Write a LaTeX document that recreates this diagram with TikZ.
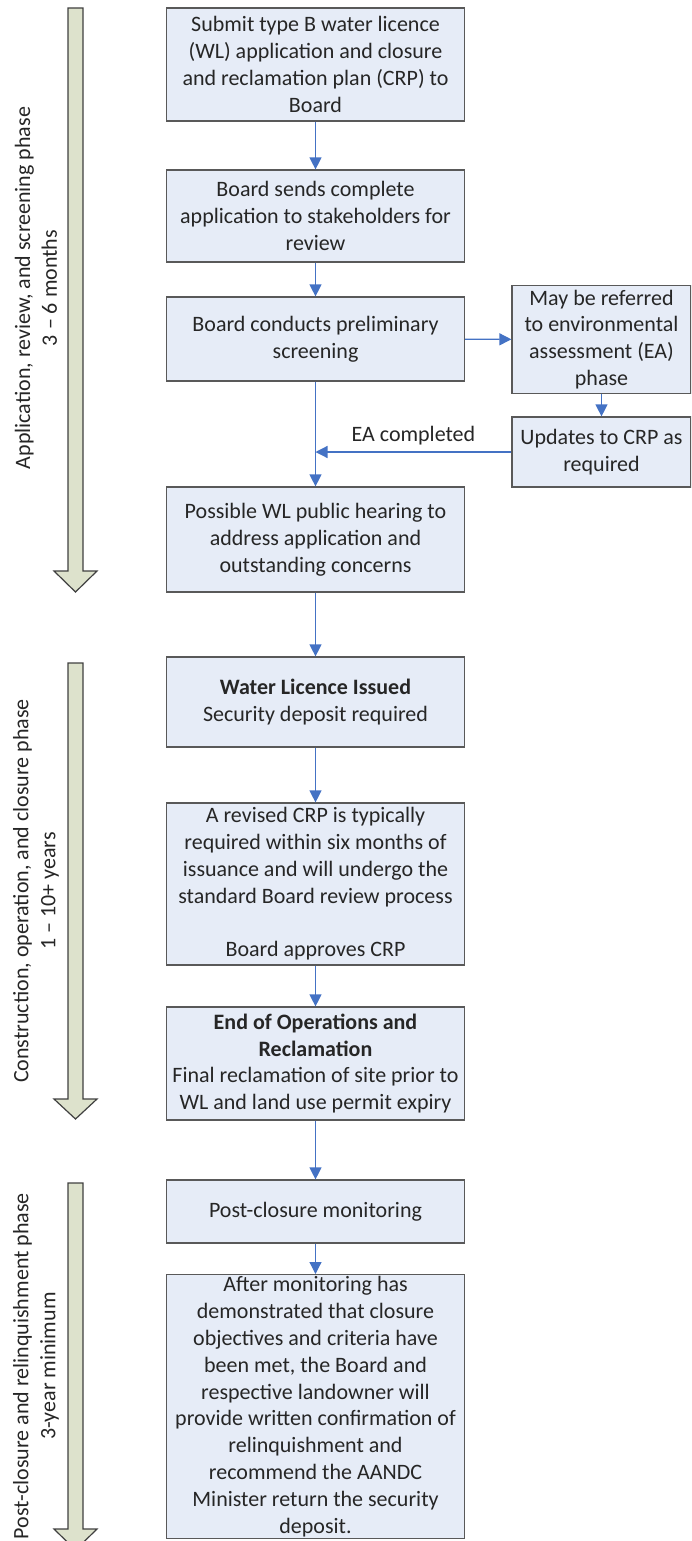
\documentclass[tikz,border=0pt]{standalone}
\usepackage{fontspec}
\setmainfont{Carlito}
\usetikzlibrary{arrows.meta,positioning}
\definecolor{BoxFill}{HTML}{E6ECF7}
\definecolor{BoxLine}{HTML}{595959}
\definecolor{Flow}{HTML}{4472C4}
\definecolor{Phase}{HTML}{DDE2CC}
\definecolor{PhaseLine}{HTML}{404040}
\definecolor{Ink}{HTML}{262626}

\begin{document}
\begin{tikzpicture}[x=0.5pt,y=-0.5pt,
  stepbox/.style={draw=BoxLine,fill=BoxFill,line width=0.6pt,align=center,text=Ink,
    font=\fontsize{11}{13.4}\selectfont,minimum width=149pt,inner sep=2pt},
  sidebox/.style={stepbox,minimum width=89.5pt,inner xsep=1pt},
  flow/.style={draw=Flow,line width=0.6pt,-{Triangle[length=6pt,width=6pt]}},
  phase/.style={draw=PhaseLine,fill=Phase,line width=0.6pt},
  phaselabel/.style={rotate=90,align=center,text=Ink,font=\fontsize{11}{13.4}\selectfont}]
\useasboundingbox (0,0) rectangle (691,1541);
\clip (0,0) rectangle (691,1541);
\foreach \ya/\yb/\yc/\ym/\txt [count=\i] in {8/571/592/288/{Application, review, and screening phase\\3 -- 6 months},
    663/1099/1119/891/{Construction, operation, and closure phase\\1 -- 10+ years},
    1183/1529/1550/1366/{Post-closure and relinquishment phase\\3-year minimum}}
  {\draw[phase] (68,\ya) -- (83,\ya) -- (83,\yb) -- (97,\yb) -- (75.5,\yc) -- (54,\yb) -- (68,\yb) -- cycle;
   \node[phaselabel] (phase\i) at (36,\ym) {\txt};}
\node[stepbox,minimum height=56.5pt] (submit) at (315.5,64.5) {Submit type B water licence\\(WL) application and closure\\and reclamation plan (CRP) to\\Board};
\node[stepbox,minimum height=46pt] (sends) at (315.5,216) {Board sends complete\\application to stakeholders for\\review};
\node[stepbox,minimum height=42pt] (screen) at (315.5,339) {Board conducts preliminary\\screening};
\node[stepbox,minimum height=52.5pt] (hearing) at (315.5,539.5) {Possible WL public hearing to\\address application and\\outstanding concerns};
\node[sidebox,minimum height=51.5pt] (refer) at (601.5,339.5) {May be referred\\to environmental\\assessment (EA)\\phase};
\node[sidebox,minimum height=35pt] (update) at (601.5,452) {Updates to CRP as\\required};
\node[stepbox,minimum height=45pt] (issued) at (315.5,702) {\textbf{Water Licence Issued}\\Security deposit required};
\node[stepbox,minimum height=81pt] (revised) at (315.5,884) {A revised CRP is typically\\required within six months of\\issuance and will undergo the\\standard Board review process\\[13.4pt]Board approves CRP};
\node[stepbox,minimum height=56.5pt] (endops) at (315.5,1063.5) {\textbf{End of Operations and}\\\textbf{Reclamation}\\Final reclamation of site prior to\\WL and land use permit expiry};
\node[stepbox,minimum height=31.5pt] (monitor) at (315.5,1211.5) {Post-closure monitoring};
\node[stepbox,anchor=north,inner ysep=1pt] (relinq) at (315.5,1274) {After monitoring has\\demonstrated that closure\\objectives and criteria have\\been met, the Board and\\respective landowner will\\provide written confirmation of\\relinquishment and\\recommend the AANDC\\Minister return the security\\deposit.};
\coordinate (ea) at (screen.south |- update.west);
\draw[flow] (submit) -- (sends);
\draw[flow] (sends) -- (screen);
\draw[flow] (screen) -- (hearing);
\draw[flow] (screen) -- (refer);
\draw[flow] (refer) -- (update);
\draw[flow] (update) -- node[above,text=Ink,font=\fontsize{11}{13.4}\selectfont] {EA completed} (ea);
\draw[flow] (hearing) -- (issued);
\draw[flow] (issued) -- (revised);
\draw[flow] (revised) -- (endops);
\draw[flow] (endops) -- (monitor);
\draw[flow] (monitor) -- (relinq);
\end{tikzpicture}
\end{document}
